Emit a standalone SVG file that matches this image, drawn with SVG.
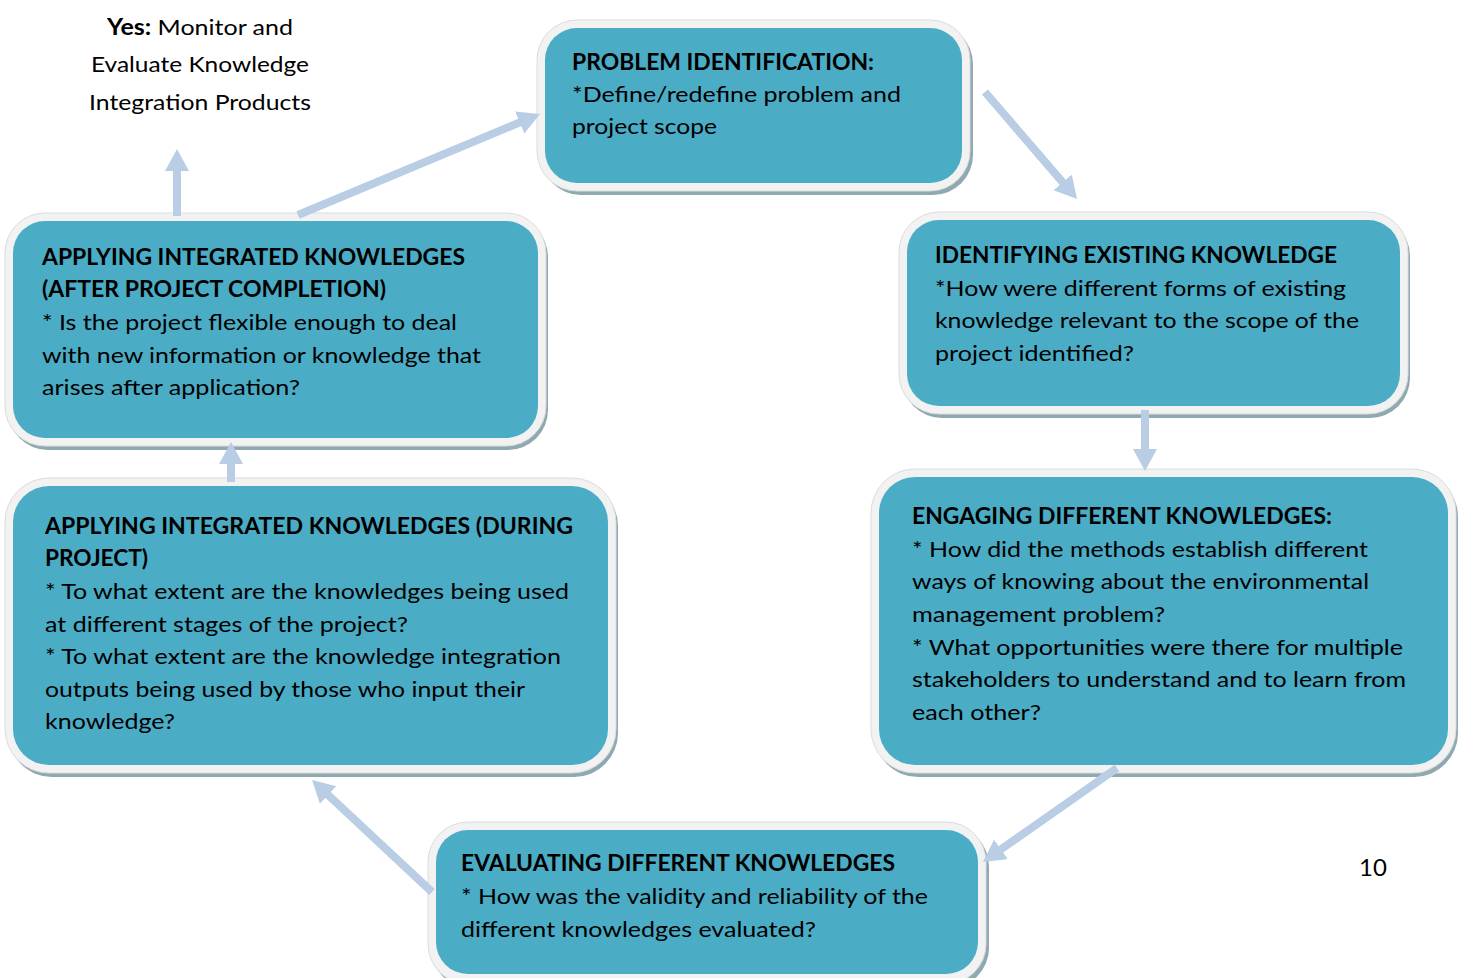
<svg xmlns="http://www.w3.org/2000/svg" width="1462" height="978" viewBox="0 0 1462 978">
<style>
.sh{fill:#8fa9b1}
.out{fill:#f2f2f2;stroke:#dcdcdc;stroke-width:1}
.in{fill:#4bacc6}
text{font-family:Lato,"Open Sans","Liberation Sans",sans-serif;font-size:22px;fill:#000}
.b{font-weight:bold}
.c{stroke:#b9cde5;stroke-width:8;fill:none}
</style>
<defs>
<marker id="ah" markerUnits="userSpaceOnUse" markerWidth="24" markerHeight="26" refX="10" refY="12" orient="auto">
<path d="M0,0 L22,12 L0,24 z" fill="#b9cde5"/>
</marker>
</defs>
<rect width="1462" height="978" fill="#fff"/>

<g id="yes-label">
<text x="200" y="35" text-anchor="middle" textLength="186" lengthAdjust="spacingAndGlyphs"><tspan class="b">Yes:</tspan> Monitor and</text>
<text x="200" y="72" text-anchor="middle" textLength="218" lengthAdjust="spacingAndGlyphs">Evaluate Knowledge</text>
<text x="200" y="110" text-anchor="middle" textLength="222" lengthAdjust="spacingAndGlyphs">Integration Products</text>
</g>

<g id="n-problem">
<rect class="sh" x="541" y="24" width="432" height="171" rx="40"/>
<rect class="out" x="537" y="20" width="433" height="171" rx="40"/>
<rect class="in" x="545" y="28" width="417" height="155" rx="32"/>
<text class="b" x="572" y="70" textLength="302" lengthAdjust="spacingAndGlyphs">PROBLEM IDENTIFICATION:</text>
<text x="572" y="102" textLength="329" lengthAdjust="spacingAndGlyphs">*Define/redefine problem and</text>
<text x="572" y="134" textLength="145" lengthAdjust="spacingAndGlyphs">project scope</text>
</g>

<g id="n-identifying">
<rect class="sh" x="902" y="216" width="508" height="202" rx="40"/>
<rect class="out" x="899" y="212" width="509" height="202" rx="40"/>
<rect class="in" x="907" y="220" width="493" height="186" rx="32"/>
<text class="b" x="935" y="263" textLength="402" lengthAdjust="spacingAndGlyphs">IDENTIFYING EXISTING KNOWLEDGE</text>
<text x="935" y="296" textLength="411" lengthAdjust="spacingAndGlyphs">*How were different forms of existing</text>
<text x="935" y="328" textLength="424" lengthAdjust="spacingAndGlyphs">knowledge relevant to the scope of the</text>
<text x="935" y="361" textLength="199" lengthAdjust="spacingAndGlyphs">project identified?</text>
</g>

<g id="n-engaging">
<rect class="sh" x="874" y="473" width="584" height="304" rx="44"/>
<rect class="out" x="871" y="469" width="585" height="304" rx="44"/>
<rect class="in" x="879" y="477" width="569" height="288" rx="36"/>
<text class="b" x="912" y="524" textLength="420" lengthAdjust="spacingAndGlyphs">ENGAGING DIFFERENT KNOWLEDGES:</text>
<text x="912" y="557" textLength="456" lengthAdjust="spacingAndGlyphs">* How did the methods establish different</text>
<text x="912" y="589" textLength="457" lengthAdjust="spacingAndGlyphs">ways of knowing about the environmental</text>
<text x="912" y="622" textLength="253" lengthAdjust="spacingAndGlyphs">management problem?</text>
<text x="912" y="655" textLength="491" lengthAdjust="spacingAndGlyphs">* What opportunities were there for multiple</text>
<text x="912" y="687" textLength="494" lengthAdjust="spacingAndGlyphs">stakeholders to understand and to learn from</text>
<text x="912" y="720" textLength="129" lengthAdjust="spacingAndGlyphs">each other?</text>
</g>

<g id="n-evaluating">
<rect class="sh" x="431" y="826" width="558" height="162" rx="40"/>
<rect class="out" x="428" y="822" width="558" height="162" rx="40"/>
<rect class="in" x="436" y="830" width="542" height="144" rx="32"/>
<text class="b" x="461" y="871" textLength="434" lengthAdjust="spacingAndGlyphs">EVALUATING DIFFERENT KNOWLEDGES</text>
<text x="461" y="904" textLength="467" lengthAdjust="spacingAndGlyphs">* How was the validity and reliability of the</text>
<text x="461" y="937" textLength="355" lengthAdjust="spacingAndGlyphs">different knowledges evaluated?</text>
</g>

<g id="n-during">
<rect class="sh" x="8" y="482" width="610" height="295" rx="44"/>
<rect class="out" x="5" y="478" width="611" height="295" rx="44"/>
<rect class="in" x="13" y="486" width="595" height="279" rx="36"/>
<text class="b" x="45" y="534" textLength="528" lengthAdjust="spacingAndGlyphs">APPLYING INTEGRATED KNOWLEDGES (DURING</text>
<text class="b" x="45" y="566" textLength="103" lengthAdjust="spacingAndGlyphs">PROJECT)</text>
<text x="45" y="599" textLength="524" lengthAdjust="spacingAndGlyphs">* To what extent are the knowledges being used</text>
<text x="45" y="632" textLength="363" lengthAdjust="spacingAndGlyphs">at different stages of the project?</text>
<text x="45" y="664" textLength="516" lengthAdjust="spacingAndGlyphs">* To what extent are the knowledge integration</text>
<text x="45" y="697" textLength="480" lengthAdjust="spacingAndGlyphs">outputs being used by those who input their</text>
<text x="45" y="729" textLength="130" lengthAdjust="spacingAndGlyphs">knowledge?</text>
</g>

<g id="n-after">
<rect class="sh" x="8" y="217" width="540" height="233" rx="40"/>
<rect class="out" x="5" y="213" width="541" height="233" rx="40"/>
<rect class="in" x="13" y="221" width="525" height="217" rx="32"/>
<text class="b" x="42" y="265" textLength="423" lengthAdjust="spacingAndGlyphs">APPLYING INTEGRATED KNOWLEDGES</text>
<text class="b" x="42" y="297" textLength="344" lengthAdjust="spacingAndGlyphs">(AFTER PROJECT COMPLETION)</text>
<text x="42" y="330" textLength="415" lengthAdjust="spacingAndGlyphs">* Is the project flexible enough to deal</text>
<text x="42" y="363" textLength="439" lengthAdjust="spacingAndGlyphs">with new information or knowledge that</text>
<text x="42" y="395" textLength="258" lengthAdjust="spacingAndGlyphs">arises after application?</text>
</g>

<g id="page-number">
<text x="1373" y="876" text-anchor="middle" font-family="Calibri,Carlito,Lato,sans-serif" style="font-size:24px">10</text>
</g>

<g id="connectors">
<line class="c" x1="298" y1="215" x2="528.9" y2="118.6" marker-end="url(#ah)"/>
<line class="c" x1="985" y1="92" x2="1069.2" y2="189.9" marker-end="url(#ah)"/>
<line class="c" x1="1145" y1="410" x2="1145" y2="459" marker-end="url(#ah)"/>
<line class="c" x1="1117" y1="768" x2="992.8" y2="855.1" marker-end="url(#ah)"/>
<line class="c" x1="432" y1="892" x2="320.8" y2="788.2" marker-end="url(#ah)"/>
<line class="c" x1="231" y1="482" x2="231" y2="454" marker-end="url(#ah)"/>
<line class="c" x1="177" y1="216" x2="177" y2="161" marker-end="url(#ah)"/>
</g>
</svg>
